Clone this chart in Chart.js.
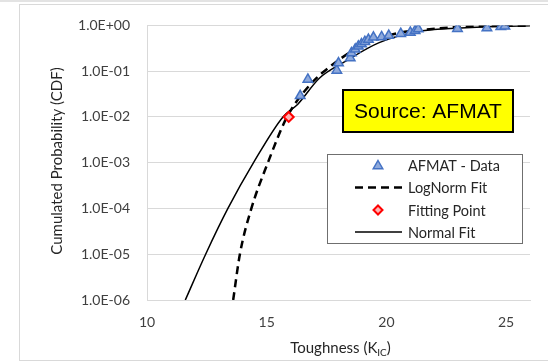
<!DOCTYPE html>
<html><head><meta charset="utf-8">
<script src="https://cdn.jsdelivr.net/npm/chart.js@4.4.1/dist/chart.umd.min.js"></script>
<style>html,body{margin:0;padding:0;background:#fff;overflow:hidden}#wrap{width:548px;height:363px;position:relative}</style>
</head><body><div id="wrap"><canvas id="c"></canvas></div>
<script>
// ---- data ----
const afmatK = [16.40,16.72,17.93,18.00,18.49,18.54,18.70,18.83,18.96,19.10,19.25,19.46,19.80,20.10,20.60,21.00,21.20,21.33,22.97,24.20,24.78,24.95];
const afmatP = [0.029,0.066,0.104,0.150,0.195,0.250,0.300,0.350,0.390,0.440,0.490,0.550,0.560,0.600,0.660,0.700,0.760,0.830,0.850,0.880,0.930,0.960];
const logNormK = [13.60,13.88,14.36,15.05,15.85,16.82,17.58,18.69,19.60,20.50,21.50,23.00,24.50,26.00];
const logNormP = [1e-6,1e-5,1e-4,1e-3,1e-2,0.051,0.118,0.30,0.50,0.68,0.80,0.92,0.97,0.99];
const normalK = [11.60,12.45,13.38,14.45,15.68,16.30,17.20,18.30,19.70,21.50,23.10,24.50,26.00];
const normalP = [1e-6,1e-5,1e-4,1e-3,1e-2,0.019,0.070,0.165,0.42,0.76,0.88,0.95,0.985];
const fitK = [15.92];
const fitP = [0.01];
const seriesNames = ['AFMAT - Data','LogNorm Fit','Fitting Point','Normal Fit'];
const yTickValues = [1e-6,1e-5,1e-4,1e-3,1e-2,1e-1,1];
const yTickLabels = ['1.0E-06','1.0E-05','1.0E-04','1.0E-03','1.0E-02','1.0E-01','1.0E+00'];
const xTickValues = [10,15,20,25];
const xTitleMain = 'Toughness (K', xTitleSub = 'IC', xTitleEnd = ')';
const yTitle = 'Cumulated Probability (CDF)';
const sourceLabel = 'Source: AFMAT';

const pts = (xs, ys) => xs.map((x, i) => ({x: x, y: ys[i]}));
const FONT = 'Lato, "DejaVu Sans", sans-serif';
const TRI_FILL = '#8ea9db', TRI_EDGE = '#4472c4', DIA_FILL = '#ffb3b3', DIA_EDGE = '#ff0000';

function drawTri(ctx, x, y, r) {
  ctx.save(); ctx.beginPath();
  ctx.moveTo(x, y - r); ctx.lineTo(x + r * 0.866, y + r * 0.5); ctx.lineTo(x - r * 0.866, y + r * 0.5); ctx.closePath();
  ctx.fillStyle = TRI_FILL; ctx.fill(); ctx.lineWidth = 1.5; ctx.strokeStyle = TRI_EDGE; ctx.stroke(); ctx.restore();
}
function drawDia(ctx, x, y, r) {
  ctx.save(); ctx.beginPath();
  ctx.moveTo(x, y - r); ctx.lineTo(x + r, y); ctx.lineTo(x, y + r); ctx.lineTo(x - r, y); ctx.closePath();
  ctx.fillStyle = DIA_FILL; ctx.fill(); ctx.lineWidth = 2; ctx.strokeStyle = DIA_EDGE; ctx.stroke(); ctx.restore();
}

const decor = {
  id: 'decor',
  beforeDraw(chart) {
    const ctx = chart.ctx;
    ctx.save();
    ctx.fillStyle = '#fff'; ctx.fillRect(0, 0, chart.width, chart.height);
    ctx.fillStyle = '#e3e3e3'; ctx.fillRect(0, 0, chart.width, 2);
    ctx.strokeStyle = '#d9d9d9'; ctx.lineWidth = 1;
    ctx.strokeRect(19.5, 4.5, 700, 356);
    ctx.restore();
  },
  afterDraw(chart) {
    const ctx = chart.ctx;
    const ca = chart.chartArea;
    ctx.save();
    ctx.fillStyle = '#262626';
    ctx.font = '15px ' + FONT;
    ctx.textAlign = 'center'; ctx.textBaseline = 'middle';
    ctx.translate(57, 161); ctx.rotate(-Math.PI / 2);
    ctx.fillText(yTitle, 0, 0);
    ctx.restore();
    ctx.save();
    ctx.fillStyle = '#262626'; ctx.textBaseline = 'alphabetic'; ctx.textAlign = 'left';
    ctx.font = '15px ' + FONT; const w1 = ctx.measureText(xTitleMain).width; const w3 = ctx.measureText(xTitleEnd).width;
    ctx.font = '10px ' + FONT; const w2 = ctx.measureText(xTitleSub).width;
    let x0 = (ca.left + ca.right) / 2 - (w1 + w2 + w3) / 2 + 2;
    const by = 353;
    ctx.font = '15px ' + FONT; ctx.fillText(xTitleMain, x0, by);
    ctx.font = '10px ' + FONT; ctx.fillText(xTitleSub, x0 + w1, by + 3);
    ctx.font = '15px ' + FONT; ctx.fillText(xTitleEnd, x0 + w1 + w2, by);
    ctx.restore();
    ctx.save();
    ctx.fillStyle = '#ffff00'; ctx.fillRect(343, 90, 170, 42);
    ctx.strokeStyle = '#000'; ctx.lineWidth = 2; ctx.strokeRect(343, 90, 170, 42);
    ctx.fillStyle = '#000'; ctx.font = '21px "Liberation Sans", Arial, sans-serif';
    ctx.textAlign = 'center'; ctx.textBaseline = 'middle';
    ctx.fillText(sourceLabel, 428, 112);
    ctx.restore();
    ctx.save();
    ctx.fillStyle = '#fff'; ctx.fillRect(327.5, 154.5, 195, 89);
    ctx.strokeStyle = '#6f6f6f'; ctx.lineWidth = 1; ctx.strokeRect(327.5, 154.5, 195, 89);
    const rows = [165, 187.5, 210, 232];
    const sx = 378;
    drawTri(ctx, sx, rows[0] + 1, 5.5);
    ctx.beginPath(); ctx.setLineDash([8, 5]); ctx.lineWidth = 2.5; ctx.strokeStyle = '#000';
    ctx.moveTo(355, rows[1]); ctx.lineTo(402, rows[1]); ctx.stroke(); ctx.setLineDash([]);
    drawDia(ctx, sx, rows[2], 4.5);
    ctx.beginPath(); ctx.lineWidth = 1.5; ctx.moveTo(355, rows[3]); ctx.lineTo(402, rows[3]); ctx.stroke();
    ctx.fillStyle = '#262626'; ctx.font = '14.5px ' + FONT; ctx.textAlign = 'left'; ctx.textBaseline = 'middle';
    seriesNames.forEach((n, i) => ctx.fillText(n, 408, rows[i] + 1));
    ctx.restore();
  }
};

new Chart(document.getElementById('c'), {
  type: 'scatter',
  data: {
    datasets: [
      {label: seriesNames[0], data: pts(afmatK, afmatP), order: 0, pointStyle: 'triangle', pointRadius: 5.5,
       backgroundColor: TRI_FILL, borderColor: TRI_EDGE, borderWidth: 1.5, showLine: false},
      {label: seriesNames[1], data: pts(logNormK, logNormP), order: 2, showLine: true, pointRadius: 0,
       borderColor: '#000', borderWidth: 2.5, borderDash: [8, 5], cubicInterpolationMode: 'monotone', fill: false},
      {label: seriesNames[2], data: pts(fitK, fitP), order: 1, pointStyle: 'rectRot', pointRadius: 5,
       backgroundColor: DIA_FILL, borderColor: DIA_EDGE, borderWidth: 2, showLine: false},
      {label: seriesNames[3], data: pts(normalK, normalP), order: 3, showLine: true, pointRadius: 0,
       borderColor: '#000', borderWidth: 1.5, cubicInterpolationMode: 'monotone', fill: false}
    ]
  },
  options: {
    responsive: true, maintainAspectRatio: false, animation: false,
    layout: {padding: {left: 0, top: 24, right: 18, bottom: 0}},
    plugins: {legend: {display: false}, tooltip: {enabled: false}},
    scales: {
      x: {
        type: 'linear', min: 10, max: 26,
        afterBuildTicks: s => { s.ticks = xTickValues.map(v => ({value: v})); },
        afterFit: s => { s.height = 63; },
        grid: {display: false, drawTicks: false},
        border: {display: true, color: '#d9d9d9', width: 1},
        ticks: {padding: 14, color: '#404040', font: {family: FONT, size: 14}, maxRotation: 0}
      },
      y: {
        type: 'logarithmic', min: 1e-6, max: 1,
        afterBuildTicks: s => { s.ticks = yTickValues.map(v => ({value: v, major: true})); },
        afterFit: s => { s.width = 147; },
        grid: {color: '#d9d9d9', lineWidth: 1, drawTicks: false},
        border: {display: true, color: '#d9d9d9', width: 1},
        ticks: {padding: 17, color: '#404040', font: {family: FONT, size: 14},
                callback: (v, i) => yTickLabels[i]}
      }
    }
  },
  plugins: [decor]
});
</script></body></html>
